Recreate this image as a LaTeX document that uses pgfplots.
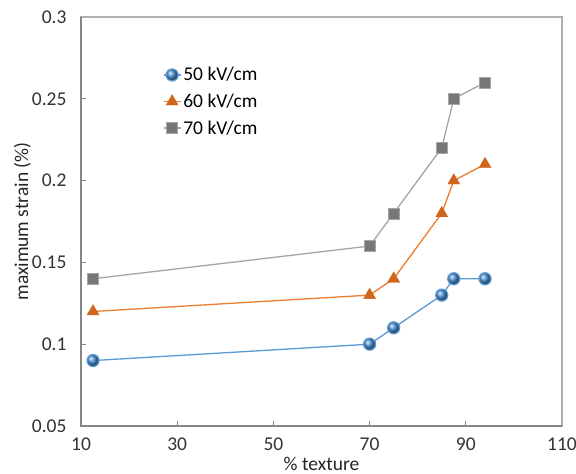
\documentclass[border=0pt]{standalone}
\usepackage{fontspec}
\setmainfont{Carlito}
\usepackage{pgfplots}
\pgfplotsset{compat=1.18}
\definecolor{cblue}{HTML}{5B9BD5}
\definecolor{cblued}{HTML}{4A90D0}
\definecolor{corange}{HTML}{ED7D31}
\definecolor{corangd}{HTML}{D0661E}
\definecolor{cgray}{HTML}{A5A5A5}
\definecolor{cgrayd}{HTML}{777777}
\definecolor{axdark}{HTML}{868686}
\definecolor{axlight}{HTML}{B0B0B0}
\begin{document}
\begin{tikzpicture}[x=1pt,y=1pt]
\useasboundingbox (0,0) rectangle (576,474);
\fill[white] (0,0) rectangle (576,474);
\begin{axis}[
  at={(81pt,48pt)}, anchor=south west,
  scale only axis, width=481pt, height=409pt,
  xmin=10, xmax=110, ymin=0.05, ymax=0.3,
  xtick={10,30,50,70,90,110},
  ytick={0.05,0.1,0.15,0.2,0.25,0.3},
  yticklabels={0.05,0.1,0.15,0.2,0.25,0.3},
  xtick pos=left, ytick pos=left,
  tick align=inside, major tick length=5pt,
  tick style={axdark, line width=0.9pt},
  axis line style={axlight, line width=1.2pt},
  /pgf/number format/assume math mode=true,
  font=\fontsize{19.5}{23}\selectfont,
  ticklabel style={font=\fontsize{19.5}{23}\selectfont, text=black!80},
  xticklabel style={yshift=-8pt},
  yticklabel style={xshift=-11pt},
  xlabel={\% texture}, ylabel={maximum strain (\%)},
  label style={font=\fontsize{19.5}{23}\selectfont, text=black!85},
  xlabel style={at={(axis description cs:0.5,-0.093)}, anchor=center},
  ylabel style={at={(axis description cs:-0.122,0.5)}, anchor=center},
  legend style={at={(0.17,0.882)}, anchor=north west, draw=none, fill=none,
    font=\fontsize{19.5}{23}\selectfont, row sep=7.5pt, inner sep=0pt},
  legend cell align=left,
  clip=false,
]
\draw[axdark, line width=1.2pt] (rel axis cs:0,1) -- (rel axis cs:0,0) -- (rel axis cs:1,0);
\addplot[cblue, line width=1.3pt, mark=ball, mark size=6pt, mark options={ball color=cblued}]
  coordinates {(12.5,0.09) (70,0.10) (75,0.11) (85,0.13) (87.5,0.14) (94,0.14)};
\addlegendentry{50 kV/cm}
\addplot[corange, line width=1.3pt, mark=triangle*, mark size=7pt, mark options={fill=corangd, draw=corangd, line width=0.3pt}]
  coordinates {(12.5,0.12) (70,0.13) (75,0.14) (85,0.18) (87.5,0.20) (94,0.21)};
\addlegendentry{60 kV/cm}
\addplot[cgray, line width=1.3pt, mark=square*, mark size=5.5pt, mark options={fill=cgrayd, draw=cgray, line width=0.5pt}]
  coordinates {(12.5,0.14) (70,0.16) (75,0.18) (85,0.22) (87.5,0.25) (94,0.26)};
\addlegendentry{70 kV/cm}
\end{axis}
\end{tikzpicture}
\end{document}
